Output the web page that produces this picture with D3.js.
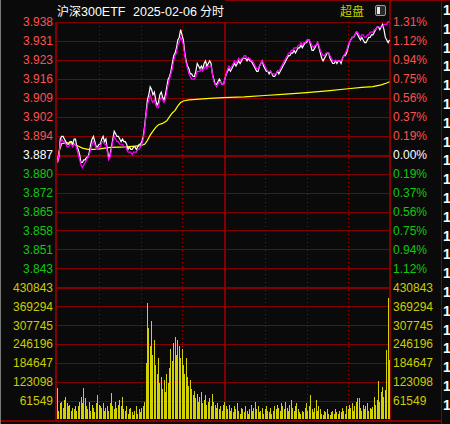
<!DOCTYPE html>
<html>
<head>
<meta charset="utf-8">
<script src="https://cdn.jsdelivr.net/npm/d3@7/dist/d3.min.js"></script>
<style>
  body { margin: 0; background: #0a0a0a; }
  svg { display: block; }
  text { font-family: "Liberation Sans", Arial, sans-serif; }
  .cjk { font-family: "Noto Sans CJK SC", sans-serif; }
</style>
</head>
<body>
<script>
// prev close and axis labels
var prevClose = 3.887;
var maxPct = 0.0131;
var priceLabels = ["3.938","3.931","3.923","3.916","3.909","3.902","3.894","3.887","3.880","3.872","3.865","3.858","3.851","3.843"];
var pctLabels = ["1.31%","1.12%","0.94%","0.75%","0.56%","0.37%","0.19%","0.00%","0.19%","0.37%","0.56%","0.75%","0.94%","1.12%"];
var volLabels = ["430843","369294","307745","246196","184647","123098","61549"];
var volMax = 430843;

// minute prices 9:30..11:30, 13:01..15:00 (241 points)
var price = [
3.884,3.886,3.893,3.894,3.894,3.893,3.892,3.891,3.891,3.892,
3.892,3.891,3.893,3.893,3.890,3.889,3.887,3.884,3.884,3.885,
3.885,3.886,3.886,3.888,3.891,3.893,3.894,3.892,3.890,3.890,
3.891,3.891,3.893,3.894,3.892,3.893,3.889,3.886,3.887,3.890,
3.893,3.896,3.895,3.894,3.894,3.893,3.892,3.893,3.892,3.892,
3.891,3.889,3.890,3.889,3.889,3.890,3.890,3.889,3.890,3.891,
3.891,3.892,3.894,3.898,3.903,3.908,3.910,3.913,3.912,3.910,
3.911,3.908,3.906,3.907,3.910,3.911,3.909,3.908,3.910,3.913,
3.916,3.917,3.919,3.922,3.925,3.926,3.928,3.931,3.932,3.935,
3.933,3.931,3.926,3.923,3.921,3.920,3.918,3.918,3.917,3.917,
3.919,3.922,3.921,3.920,3.921,3.920,3.922,3.923,3.921,3.922,
3.923,3.922,3.918,3.916,3.914,3.914,3.915,3.916,3.915,3.914,
3.914,
3.916,3.918,3.919,3.920,3.919,3.920,3.921,3.922,3.921,
3.922,3.923,3.922,3.923,3.924,3.924,3.924,3.923,3.924,3.923,
3.923,3.922,3.921,3.920,3.919,3.919,3.921,3.922,3.923,3.921,
3.920,3.919,3.919,3.918,3.919,3.918,3.917,3.917,3.918,3.919,
3.918,3.919,3.920,3.921,3.922,3.923,3.924,3.925,3.925,3.926,
3.926,3.927,3.926,3.927,3.928,3.928,3.929,3.928,3.929,3.930,
3.930,3.931,3.931,3.929,3.927,3.927,3.928,3.929,3.930,3.928,
3.926,3.924,3.923,3.924,3.925,3.926,3.926,3.924,3.923,3.922,
3.922,3.923,3.922,3.923,3.923,3.922,3.924,3.925,3.925,3.926,
3.928,3.930,3.931,3.932,3.932,3.933,3.934,3.933,3.932,3.931,
3.932,3.931,3.930,3.930,3.931,3.932,3.932,3.933,3.933,3.934,
3.935,3.936,3.936,3.935,3.936,3.937,3.935,3.932,3.931,3.930,
3.931
];

// magenta line (iopv-like), 241 points
var iopv = [
3.884,3.887,3.891,3.893,3.892,3.892,3.891,3.890,3.890,3.891,
3.891,3.890,3.891,3.891,3.889,3.887,3.885,3.883,3.882,3.883,
3.884,3.885,3.886,3.887,3.889,3.891,3.892,3.891,3.889,3.889,
3.890,3.890,3.892,3.892,3.891,3.891,3.888,3.885,3.886,3.889,
3.892,3.894,3.893,3.892,3.892,3.891,3.891,3.891,3.890,3.890,
3.889,3.888,3.888,3.888,3.887,3.888,3.888,3.888,3.889,3.889,
3.890,3.891,3.893,3.897,3.902,3.906,3.908,3.910,3.908,3.907,
3.908,3.906,3.905,3.905,3.908,3.909,3.908,3.907,3.908,3.911,
3.914,3.916,3.918,3.920,3.923,3.925,3.926,3.929,3.930,3.932,
3.931,3.929,3.925,3.922,3.920,3.918,3.917,3.916,3.916,3.916,
3.917,3.919,3.919,3.919,3.920,3.919,3.920,3.921,3.920,3.921,
3.921,3.921,3.918,3.915,3.914,3.913,3.914,3.915,3.915,3.914,
3.914,
3.916,3.918,3.920,3.921,3.920,3.921,3.922,3.923,3.922,
3.923,3.924,3.923,3.924,3.924,3.925,3.925,3.924,3.924,3.924,
3.923,3.923,3.922,3.921,3.920,3.920,3.921,3.922,3.923,3.922,
3.921,3.920,3.919,3.919,3.919,3.918,3.918,3.918,3.918,3.919,
3.919,3.920,3.921,3.922,3.923,3.924,3.925,3.926,3.926,3.927,
3.927,3.928,3.928,3.928,3.929,3.929,3.930,3.929,3.930,3.930,
3.931,3.931,3.931,3.930,3.929,3.928,3.929,3.929,3.930,3.929,
3.927,3.926,3.925,3.925,3.926,3.926,3.926,3.925,3.924,3.923,
3.923,3.923,3.923,3.923,3.923,3.923,3.924,3.925,3.926,3.927,
3.929,3.930,3.931,3.932,3.932,3.933,3.934,3.934,3.933,3.932,
3.933,3.933,3.932,3.932,3.933,3.933,3.934,3.934,3.934,3.935,
3.935,3.936,3.936,3.936,3.936,3.936,3.937,3.937,3.937,3.938,
3.938
];

// average price line, read at these minutes
var avgMinute = [0,1,3,6,10,14,18,22,28,38,50,60,63,65,67,69,71,73,76,79,81,83,85,87,89,91,95,100,110,120,135,150,165,180,195,210,220,228,234,238,240];
var avgPrice = [3.885,3.888,3.8912,3.8915,3.8915,3.8905,3.8895,3.889,3.889,3.8898,3.890,3.8905,3.891,3.8925,3.8945,3.896,3.8975,3.8985,3.899,3.900,3.9016,3.903,3.904,3.9057,3.907,3.9076,3.908,3.9082,3.9086,3.9089,3.9092,3.9097,3.9102,3.9108,3.9115,3.9123,3.9128,3.9131,3.9138,3.9145,3.915];

// minute volume, 241 points
var volume = [
105000,30000,55000,60000,40000,65000,75000,55000,45000,50000,
30000,40000,35000,45000,30000,45000,60000,75000,55000,104000,
70000,45000,35000,60000,30000,50000,40000,25000,55000,80000,
50000,45000,40000,55000,30000,40000,45000,30000,55000,88000,
45000,35000,60000,40000,50000,65000,45000,75000,35000,30000,
45000,20000,35000,40000,25000,15000,30000,45000,20000,35000,
25000,40000,45000,60000,185000,380000,300000,240000,320000,210000,
260000,180000,150000,200000,120000,140000,100000,130000,90000,150000,
120000,170000,230000,190000,250000,270000,210000,260000,240000,200000,
230000,180000,150000,200000,140000,110000,130000,100000,80000,95000,
70000,85000,60000,75000,90000,55000,65000,80000,50000,60000,
70000,45000,85000,60000,50000,40000,55000,35000,45000,30000,
50000,
60000,45000,35000,50000,30000,40000,25000,45000,35000,
55000,30000,20000,40000,35000,25000,45000,30000,20000,35000,
50000,30000,40000,60000,35000,45000,25000,30000,40000,20000,
35000,45000,30000,25000,40000,20000,30000,45000,35000,50000,
40000,30000,55000,45000,35000,60000,40000,30000,50000,65000,
40000,30000,45000,55000,35000,25000,20000,30000,25000,40000,
55000,30000,45000,80000,35000,25000,40000,65000,30000,45000,
35000,20000,15000,30000,25000,35000,20000,15000,25000,30000,
20000,35000,25000,20000,30000,25000,40000,30000,20000,45000,
35000,50000,40000,56000,30000,45000,60000,70000,70000,40000,
30000,50000,35000,45000,55000,30000,40000,35000,43000,76000,
50000,65000,127000,60000,90000,108000,75000,97000,227000,395000,
195000
];

var W = 450, H = 424;
var plotLeft = 57, plotRight = 389.5;
var plotTop = 22, rowH = 18.952;
var priceBottom = plotTop + rowH * 14, volBottom = plotTop + rowH * 21;
var gridColor = "#840000";

var svg = d3.select("body").append("svg")
  .attr("width", W)
  .attr("height", H);

svg.append("rect").attr("width", W).attr("height", H).attr("fill", "#0a0a0a");

var x = d3.scaleLinear().domain([0, 240]).range([plotLeft + 0.5, plotRight]);
var y = d3.scaleLinear()
  .domain([prevClose * (1 - maxPct), prevClose * (1 + maxPct)])
  .range([priceBottom, plotTop]);
var yv = d3.scaleLinear().domain([0, volMax]).range([volBottom, priceBottom]);

var grid = svg.append("g").attr("shape-rendering", "crispEdges");

// horizontal rows
var rows = d3.range(0, 22);
grid.selectAll(".row")
  .data(rows)
  .enter().append("line")
  .attr("x1", function(k) { return k == 21 ? 0 : plotLeft; })
  .attr("x2", function(k) { return k == 21 ? 441 : plotRight; })
  .attr("y1", function(k) { return Math.round(plotTop + k * rowH) + 0.5; })
  .attr("y2", function(k) { return Math.round(plotTop + k * rowH) + 0.5; })
  .attr("stroke", gridColor)
  .attr("stroke-width", function(k) { return (k == 7 || k == 14 || k == 21) ? 2 : 1; });

// vertical half hour lines
var halfHours = [30, 60, 90, 120, 150, 180, 210];
grid.selectAll(".vl")
  .data(halfHours)
  .enter().append("line")
  .attr("x1", function(d) { return Math.round(x(d)) + 0.5; })
  .attr("x2", function(d) { return Math.round(x(d)) + 0.5; })
  .attr("y1", plotTop)
  .attr("y2", volBottom)
  .attr("stroke", function(d) { return d == 120 ? gridColor : "#a00000"; })
  .attr("stroke-width", function(d) { return d == 120 ? 2 : 1; })
  .attr("stroke-dasharray", function(d) { return d == 120 ? null : "1,3"; });

// frame
grid.append("line").attr("x1", 0.5).attr("x2", 0.5).attr("y1", 0).attr("y2", H).attr("stroke", "#7a7a7a");
grid.append("line").attr("x1", 56).attr("x2", 56).attr("y1", plotTop).attr("y2", volBottom).attr("stroke", gridColor).attr("stroke-width", 2);
grid.append("line").attr("x1", 390).attr("x2", 390).attr("y1", 0).attr("y2", volBottom).attr("stroke", gridColor).attr("stroke-width", 2);
grid.append("line").attr("x1", 441.5).attr("x2", 441.5).attr("y1", 0).attr("y2", H).attr("stroke", gridColor);
grid.append("line").attr("x1", 225).attr("x2", W).attr("y1", 0.5).attr("y2", 0.5).attr("stroke", gridColor);

// tick labels
function labelColor(k) {
  if (k < 7) return "#ff5050";
  if (k == 7) return "#ffffff";
  return "#10c810";
}

svg.selectAll(".pl")
  .data(priceLabels)
  .enter().append("text")
  .attr("x", 53)
  .attr("y", function(d, k) { return plotTop + k * rowH + 4.3; })
  .attr("text-anchor", "end")
  .attr("font-size", 12)
  .attr("fill", function(d, k) { return labelColor(k); })
  .text(function(d) { return d; });

svg.selectAll(".pct")
  .data(pctLabels)
  .enter().append("text")
  .attr("x", 393)
  .attr("y", function(d, k) { return plotTop + k * rowH + 4.3; })
  .attr("font-size", 12)
  .attr("fill", function(d, k) { return labelColor(k); })
  .text(function(d) { return d; });

svg.selectAll(".vll")
  .data(volLabels)
  .enter().append("text")
  .attr("x", 53)
  .attr("y", function(d, k) { return priceBottom + k * rowH + 4.3; })
  .attr("text-anchor", "end")
  .attr("font-size", 12)
  .attr("fill", "#cccc00")
  .text(function(d) { return d; });

svg.selectAll(".vlr")
  .data(volLabels)
  .enter().append("text")
  .attr("x", 393)
  .attr("y", function(d, k) { return priceBottom + k * rowH + 4.3; })
  .attr("font-size", 12)
  .attr("fill", "#cccc00")
  .text(function(d) { return d; });

// volume bars
svg.append("g").attr("shape-rendering", "crispEdges")
  .selectAll("rect")
  .data(volume)
  .enter().append("rect")
  .attr("x", function(d, i) { return Math.floor(x(i)); })
  .attr("width", 1)
  .attr("y", function(d) { return yv(d); })
  .attr("height", function(d) { return volBottom - 1 - yv(d); })
  .attr("fill", "#d2d200");

// lines
var line = d3.line()
  .x(function(d, i) { return x(i); })
  .y(function(d) { return y(d); });

var avgLine = d3.line()
  .x(function(d) { return x(d[0]); })
  .y(function(d) { return y(d[1]); });

svg.append("path")
  .datum(avgMinute.map(function(m, i) { return [m, avgPrice[i]]; }))
  .attr("d", avgLine)
  .attr("fill", "none")
  .attr("stroke", "#ffff00")
  .attr("stroke-width", 1.2);

svg.append("path")
  .datum(price)
  .attr("d", line)
  .attr("fill", "none")
  .attr("stroke", "#ffffff")
  .attr("stroke-width", 1.2);

svg.append("path")
  .datum(iopv)
  .attr("d", line)
  .attr("fill", "none")
  .attr("stroke", "#ff00ff")
  .attr("stroke-width", 1.2);

// title
svg.append("text").attr("class", "cjk").attr("x", 57).attr("y", 16).attr("font-size", 12).attr("fill", "#ffffff").text("沪深");
svg.append("text").attr("x", 81).attr("y", 16).attr("font-size", 12.5).attr("fill", "#ffffff").text("300ETF");
svg.append("text").attr("x", 133).attr("y", 16).attr("font-size", 12.5).attr("fill", "#ffffff").text("2025-02-06");
svg.append("text").attr("class", "cjk").attr("x", 200).attr("y", 16).attr("font-size", 12).attr("fill", "#ffffff").text("分时");
svg.append("text").attr("class", "cjk").attr("x", 340).attr("y", 16).attr("font-size", 12).attr("fill", "#cccc00").text("超盘");

// small toggle icon
svg.append("rect").attr("x", 375.5).attr("y", 5.5).attr("width", 10).attr("height", 10).attr("rx", 1.5)
  .attr("fill", "#2a2a2a").attr("stroke", "#9a9a9a");
svg.append("rect").attr("x", 377).attr("y", 7).attr("width", 3).attr("height", 7).attr("fill", "#e8e8e8");

// cut-off column at far right
svg.selectAll(".one")
  .data(d3.range(0, 22))
  .enter().append("text")
  .attr("x", 443)
  .attr("y", function(k) { return 15 + k * 18.8; })
  .attr("font-size", 14)
  .attr("font-weight", "bold")
  .attr("fill", "#ffffff")
  .text("1");
</script>
</body>
</html>
